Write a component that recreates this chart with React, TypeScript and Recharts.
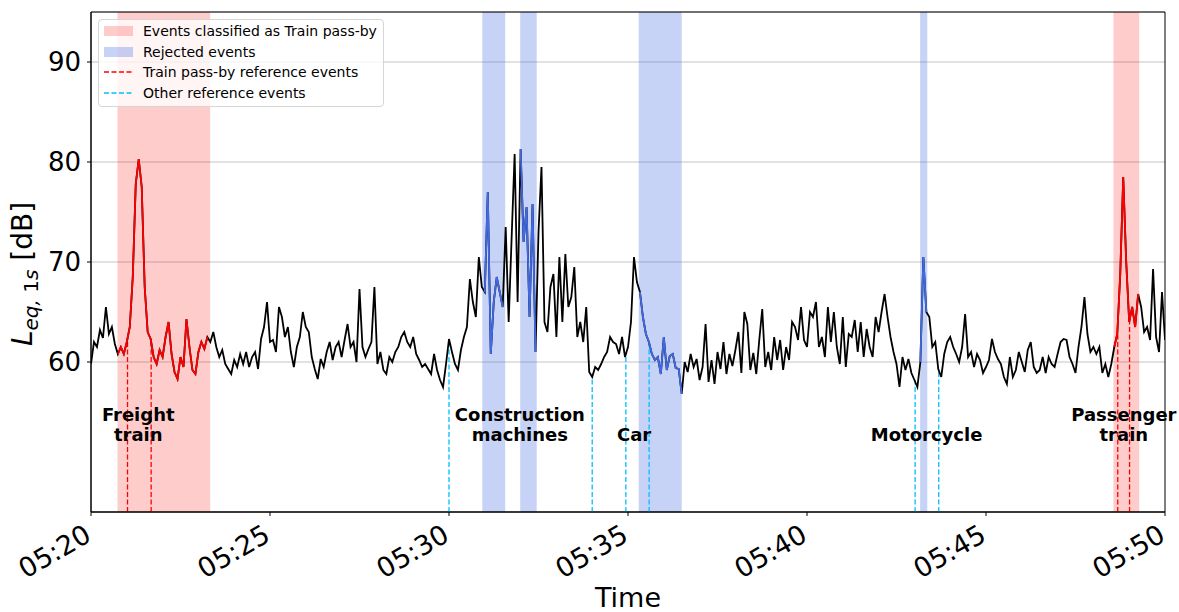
import React from 'react';
import { ComposedChart, Line, XAxis, YAxis, CartesianGrid, ReferenceArea, ReferenceLine, ReferenceDot } from 'recharts';

const FONT = '"DejaVu Sans", sans-serif';

// L_eq,1s, one value every 5 s from 05:20:00
const STEP_S = 5;
const leq = [
    59.8, 62.0, 61.5, 63.2, 62.4, 65.5, 62.8, 63.5, 61.8, 60.8,
    61.5, 60.8, 62.0, 63.5, 68.5, 77.8, 80.3, 77.5, 67.5, 63.0,
    62.3, 60.5, 59.8, 61.2, 60.5, 62.5, 64.0, 60.8, 59.0, 58.3,
    60.5, 59.5, 64.3, 61.5, 59.2, 58.8, 61.0, 62.0, 61.3, 62.5,
    62.0, 63.0, 61.5, 60.5, 61.2, 59.8, 59.3, 58.8, 60.2, 59.5,
    60.8, 59.8, 61.0, 59.5, 60.5, 61.0, 59.3, 62.3, 63.5, 66.0,
    62.0, 62.2, 61.0, 65.5, 64.5, 62.5, 63.5, 61.0, 59.5, 61.5,
    62.5, 65.0, 63.5, 63.0, 60.5, 59.3, 58.3, 60.3, 59.5, 61.0,
    62.0, 60.2, 61.5, 62.0, 60.5, 62.2, 63.8, 61.5, 62.0, 60.0,
    67.3, 61.5, 60.5, 61.3, 62.0, 67.5, 59.8, 61.0, 59.2, 58.8,
    60.5, 60.0, 61.0, 61.5, 62.5, 63.0, 62.0, 61.5, 62.5, 60.8,
    60.2, 59.5, 59.8, 59.3, 58.8, 60.8, 59.2, 58.2, 57.5, 59.8,
    62.3, 61.0, 59.8, 59.2, 61.2, 62.5, 63.5, 68.3, 66.0, 64.5,
    70.5, 67.5, 67.0, 77.0, 60.8, 66.0, 68.5, 67.0, 65.5, 73.5,
    64.0, 72.5, 80.8, 66.0, 81.3, 72.0, 75.5, 64.5, 75.8, 61.0,
    73.0, 79.5, 64.0, 63.0, 67.5, 68.8, 62.5, 70.5, 64.0, 70.8,
    65.5, 66.5, 69.5, 62.5, 64.0, 62.0, 65.5, 59.0, 58.5, 59.5,
    59.2, 59.8, 60.5, 61.0, 62.5, 62.0, 61.8, 60.8, 62.5, 60.5,
    61.5, 64.0, 70.5, 68.0, 67.0, 64.5, 62.8, 62.0, 60.8, 60.2,
    60.5, 58.8, 62.5, 59.2, 60.6, 60.8, 59.4, 59.3, 56.8, 60.0,
    59.0, 60.8, 59.5, 60.3, 58.2, 59.5, 63.8, 58.0, 60.2, 57.8,
    61.0, 59.3, 62.0, 58.8, 60.8, 59.6, 61.2, 63.0, 58.9, 65.0,
    63.8, 59.2, 60.9, 58.8, 62.2, 65.3, 59.5, 61.0, 59.2, 62.5,
    60.2, 62.2, 59.2, 61.5, 60.2, 64.0, 63.5, 62.2, 65.5, 62.2,
    61.5, 65.0, 64.5, 66.0, 61.5, 62.5, 60.5, 65.5, 62.0, 65.0,
    61.5, 59.8, 64.5, 59.5, 62.8, 62.5, 64.2, 61.0, 64.0, 60.5,
    63.3, 61.5, 60.5, 64.5, 63.0, 65.0, 66.8, 64.5, 62.5, 61.0,
    59.8, 57.5, 60.5, 59.2, 60.3, 58.9, 58.2, 57.5, 60.0, 70.5,
    65.0, 64.5, 61.5, 62.0, 59.3, 58.5, 60.8, 62.0, 62.5, 61.5,
    60.8, 60.0, 61.5, 64.8, 60.5, 61.0, 59.5, 60.8, 60.2, 58.9,
    59.5, 60.2, 62.3, 61.0, 60.3, 59.8, 58.5, 57.8, 60.5, 58.5,
    59.2, 61.0, 60.0, 59.0, 61.2, 62.0, 59.5, 58.9, 59.2, 60.5,
    58.9, 60.5, 59.8, 59.5, 60.8, 62.0, 62.3, 62.2, 60.5, 59.8,
    58.9, 61.5, 63.5, 66.5, 62.8, 61.0, 61.5, 60.8, 61.5, 58.9,
    59.8, 58.5, 59.8, 61.5, 62.8, 68.8, 78.5, 70.0, 64.0, 65.5,
    63.5, 66.8, 65.5, 63.0, 63.5, 62.2, 69.3, 62.5, 61.0, 67.0,
    62.2,
];

// minutes after 05:20
const tickMinutes = [0, 5, 10, 15, 20, 25, 30];
const tickLabels = ['05:20', '05:25', '05:30', '05:35', '05:40', '05:45', '05:50'];
const yTicks = [60, 70, 80, 90];

const trainSpans = [[0.74, 3.33], [28.56, 29.28]];
const rejectedSpans = [[10.93, 11.57], [11.99, 12.45], [15.3, 16.5], [23.16, 23.36]];
const trainRefs = [1.02, 1.68, 28.68, 29.01];
const otherRefs = [10.0, 14.0, 14.94, 15.59, 23.02, 23.68];

const annotations = [
    { x: 1.32, lines: ['Freight', 'train'] },
    { x: 11.98, lines: ['Construction', 'machines'] },
    { x: 15.17, lines: ['Car'] },
    { x: 23.34, lines: ['Motorcycle'] },
    { x: 28.85, lines: ['Passenger', 'train'] },
];

const inSpans = (t: number, spans: number[][]) => spans.some(([a, b]) => t >= a && t <= b);

const table = leq.map((v, i) => {
    const t = (i * STEP_S) / 60;
    return {
        t,
        all: v,
        train: inSpans(t, trainSpans) ? v : null,
        rejected: inSpans(t, rejectedSpans) ? v : null,
    };
});

const valueAt = (m: number) => leq[Math.round((m * 60) / STEP_S)];

const XTick = ({ x, y, payload }: any) => (
    <text
        transform={`translate(${x + 2},${y + 22}) rotate(-30)`}
        textAnchor="end"
        fontSize={27}
        fontFamily={FONT}
        fill="#000"
    >
        {tickLabels[tickMinutes.indexOf(payload.value)]}
    </text>
);

const Annotation = ({ cx, cy, lines }: any) => (
    <text textAnchor="middle" fontSize={18} fontWeight="bold" fontFamily={FONT} fill="#000">
        {lines.map((l: string, k: number) => (
            <tspan key={k} x={cx} y={cy - (lines.length - 1 - k) * 20}>{l}</tspan>
        ))}
    </text>
);

const legendItems = [
    { label: 'Events classified as Train pass-by', kind: 'patch', color: 'rgba(255,0,0,0.2)' },
    { label: 'Rejected events', kind: 'patch', color: 'rgba(65,105,225,0.3)' },
    { label: 'Train pass-by reference events', kind: 'dash', color: '#ff0000' },
    { label: 'Other reference events', kind: 'dash', color: '#00bfff' },
];

const ChartLegend = () => (
    <div
        style={{
            position: 'absolute', left: 98, top: 19, width: 286, height: 88, boxSizing: 'border-box',
            background: 'rgba(255,255,255,0.8)', border: '1px solid #d6d6d6', borderRadius: 4,
            paddingTop: 1, paddingLeft: 5, fontFamily: FONT, fontSize: 14, color: '#000',
        }}
    >
        {legendItems.map((it) => (
            <div key={it.label} style={{ display: 'flex', alignItems: 'center', height: 20.5 }}>
                <svg width={29} height={10} style={{ marginRight: 10, flex: 'none' }}>
                    {it.kind === 'patch'
                        ? <rect x={0} y={0} width={29} height={10} fill={it.color} />
                        : <line x1={0} y1={5} x2={29} y2={5} stroke={it.color} strokeWidth={1.3} strokeDasharray="5 2.5" />}
                </svg>
                <span style={{ whiteSpace: 'nowrap' }}>{it.label}</span>
            </div>
        ))}
    </div>
);

const App: React.FC = () => (
    <div style={{ position: 'absolute', left: 0, top: 0, width: 1179, height: 612, background: '#fff' }}>
        <ComposedChart width={1179} height={612} data={table} margin={{ top: 12, right: 14, bottom: 0, left: 0 }}>
            {trainSpans.map(([a, b]) => (
                <ReferenceArea key={`tr${a}`} x1={a} x2={b} y1={45} y2={95} fill="#ff0000" fillOpacity={0.2} stroke="none" />
            ))}
            {rejectedSpans.map(([a, b]) => (
                <ReferenceArea key={`rj${a}`} x1={a} x2={b} y1={45} y2={95} fill="#4169e1" fillOpacity={0.3} stroke="none" />
            ))}
            <CartesianGrid vertical={false} stroke="#c4c4c4" strokeWidth={1} />
            <XAxis
                type="number" dataKey="t" domain={[0, 30]} ticks={tickMinutes} interval={0}
                height={100} tickSize={4} tick={<XTick />} stroke="#000" allowDataOverflow
            />
            <YAxis
                type="number" domain={[45, 95]} ticks={yTicks} width={91} tickSize={4} tickMargin={6}
                tick={{ fontSize: 26, fill: '#000', fontFamily: FONT }} stroke="#000" allowDataOverflow
            />
            {trainRefs.map((m) => (
                <ReferenceLine key={`trl${m}`} segment={[{ x: m, y: 45 }, { x: m, y: valueAt(m) }]}
                    stroke="#ff0000" strokeWidth={1.3} strokeDasharray="5 2.5" />
            ))}
            {otherRefs.map((m) => (
                <ReferenceLine key={`orl${m}`} segment={[{ x: m, y: 45 }, { x: m, y: valueAt(m) }]}
                    stroke="#00bfff" strokeWidth={1.3} strokeDasharray="5 2.5" />
            ))}
            <Line type="linear" dataKey="all" stroke="#000" strokeWidth={1.8} dot={false} isAnimationActive={false} />
            <Line type="linear" dataKey="train" stroke="#ff0000" strokeWidth={1.8} dot={false} connectNulls={false} isAnimationActive={false} />
            <Line type="linear" dataKey="rejected" stroke="#4169e1" strokeWidth={1.8} dot={false} connectNulls={false} isAnimationActive={false} />
            <ReferenceArea x1={0} x2={30} y1={45} y2={95} fill="none" stroke="#000" strokeWidth={1} />
            {annotations.map((a) => (
                <ReferenceDot key={a.lines[0]} x={a.x} y={52.1} r={0}
                    shape={(p: any) => <Annotation cx={p.cx} cy={p.cy} lines={a.lines} />} />
            ))}
        </ComposedChart>
        <svg width={1179} height={612} style={{ position: 'absolute', left: 0, top: 0, pointerEvents: 'none' }}>
            <text transform="rotate(-90)" x={-274} y={32} textAnchor="middle" fontSize={28} fontFamily={FONT} fill="#000">
                <tspan fontStyle="italic">L</tspan>
                <tspan fontSize={20} dy={6} fontStyle="italic">eq,</tspan>
                <tspan fontSize={20}>{' 1'}</tspan>
                <tspan fontSize={20} fontStyle="italic">s</tspan>
                <tspan dy={-6}>{' [dB]'}</tspan>
            </text>
            <text x={628} y={607} textAnchor="middle" fontSize={27} fontFamily={FONT} fill="#000">Time</text>
        </svg>
        <ChartLegend />
    </div>
);

export default App;
